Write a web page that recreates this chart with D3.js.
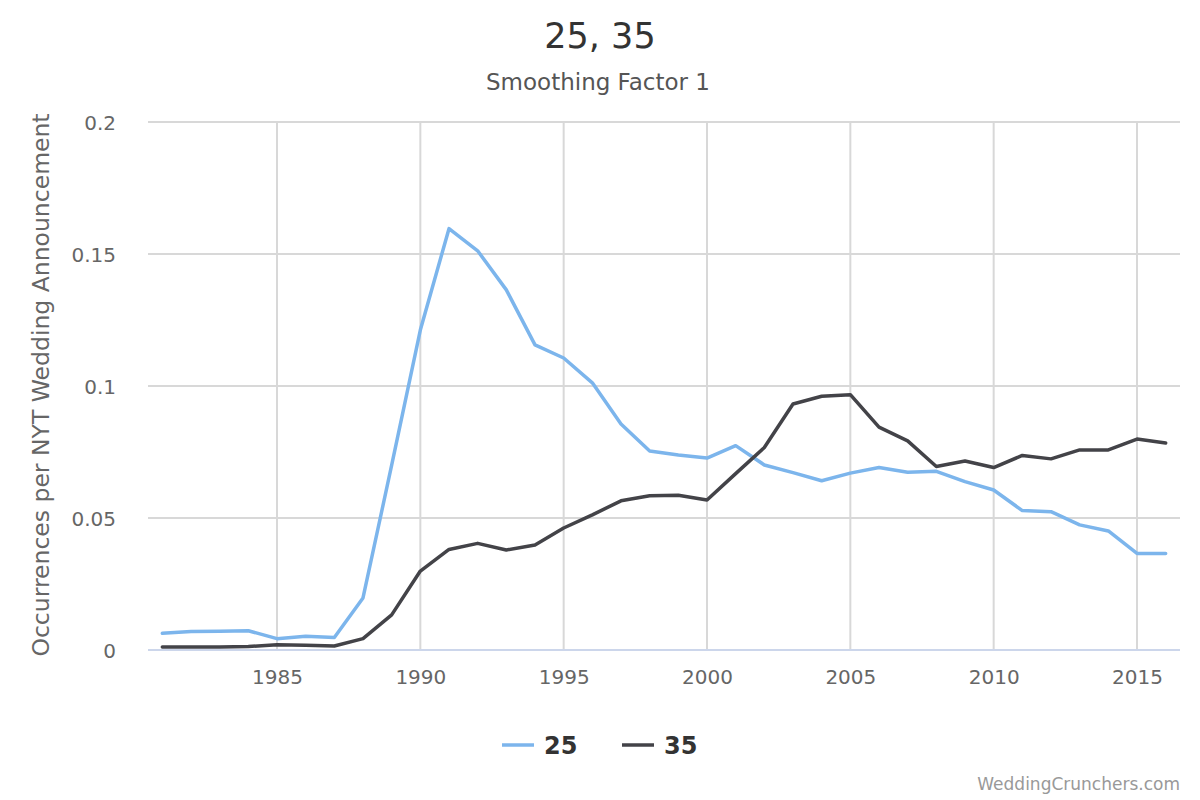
<!DOCTYPE html>
<html>
<head>
<meta charset="utf-8">
<script src="https://cdn.jsdelivr.net/npm/d3@7"></script>
<style>
  html, body { margin: 0; padding: 0; background: #ffffff; }
  svg { display: block; font-family: "DejaVu Sans", Verdana, sans-serif; }
</style>
</head>
<body>
<svg id="chart" width="1200" height="800"></svg>
<script>
const years = d3.range(1981, 2017);
const series25 = [0.0063, 0.0070, 0.0071, 0.0073, 0.0043, 0.0052, 0.0047, 0.0197, 0.0700, 0.1212,
  0.1596, 0.1512, 0.1364, 0.1156, 0.1106, 0.1012, 0.0856, 0.0754, 0.0739, 0.0727,
  0.0774, 0.0701, 0.0672, 0.0641, 0.0670, 0.0691, 0.0673, 0.0677, 0.0638, 0.0606,
  0.0528, 0.0524, 0.0474, 0.0451, 0.0366, 0.0366];
const series35 = [0.0011, 0.0011, 0.0011, 0.0013, 0.0020, 0.0018, 0.0015, 0.0043, 0.0133, 0.0299,
  0.0381, 0.0404, 0.0379, 0.0398, 0.0462, 0.0512, 0.0565, 0.0584, 0.0586, 0.0568,
  0.0668, 0.0767, 0.0932, 0.0961, 0.0967, 0.0844, 0.0792, 0.0695, 0.0716, 0.0691,
  0.0737, 0.0724, 0.0758, 0.0758, 0.0799, 0.0784];
const seriesNames = ["25", "35"];
const seriesColors = ["#7cb5ec", "#434348"];
const yTicks = [0, 0.05, 0.1, 0.15, 0.2];
const yTickLabels = ["0", "0.05", "0.1", "0.15", "0.2"];
const xTicks = [1985, 1990, 1995, 2000, 2005, 2010, 2015];

const svg = d3.select("#chart");
const plotLeft = 148, plotRight = 1180, plotTop = 122, plotBottom = 650;

const x = d3.scaleLinear().domain([1980.5, 2016.5]).range([plotLeft, plotRight]);
const y = d3.scaleLinear().domain([0, 0.2]).range([plotBottom, plotTop]);

// Title
svg.append("text").attr("x", 600).attr("y", 48).attr("text-anchor", "middle")
  .attr("font-size", 35).attr("fill", "#333333").text("25, 35");
svg.append("text").attr("x", 598).attr("y", 90).attr("text-anchor", "middle")
  .attr("font-size", 23).attr("fill", "#555555").text("Smoothing Factor 1");

// Horizontal grid
const grid = svg.append("g");
grid.selectAll("line.h").data(yTicks.filter(d => d > 0)).join("line").attr("class", "h")
  .attr("x1", plotLeft).attr("x2", plotRight)
  .attr("y1", d => y(d)).attr("y2", d => y(d))
  .attr("stroke", "#d8d8d8").attr("stroke-width", 2);
// Vertical grid
grid.selectAll("line.v").data(xTicks).join("line").attr("class", "v")
  .attr("x1", d => x(d)).attr("x2", d => x(d))
  .attr("y1", plotTop).attr("y2", plotBottom)
  .attr("stroke", "#d8d8d8").attr("stroke-width", 2);

// X axis line
svg.append("line").attr("x1", plotLeft).attr("x2", plotRight).attr("y1", plotBottom).attr("y2", plotBottom)
  .attr("stroke", "#ccd6eb").attr("stroke-width", 2);

// Y axis labels
const yAxis = d3.axisLeft(y).tickValues(yTicks).tickFormat((d, i) => yTickLabels[i]).tickSize(0).tickPadding(0);
const yg = svg.append("g").attr("transform", `translate(116,0)`).call(yAxis);
yg.select(".domain").remove();
yg.selectAll("text").attr("font-size", 20).attr("fill", "#666666")
  .attr("font-family", "DejaVu Sans, Verdana, sans-serif").attr("dy", "0.36em");

// X axis labels
const xAxis = d3.axisBottom(x).tickValues(xTicks).tickFormat(d3.format("d")).tickSize(0).tickPadding(0);
const xg = svg.append("g").attr("transform", `translate(0,668)`).call(xAxis);
xg.select(".domain").remove();
xg.selectAll("text").attr("font-size", 20).attr("fill", "#666666")
  .attr("font-family", "DejaVu Sans, Verdana, sans-serif").attr("dy", "0.8em");

// Y axis title
svg.append("text").attr("transform", "translate(49,385) rotate(-90)")
  .attr("text-anchor", "middle").attr("font-size", 23.5).attr("fill", "#666666")
  .text("Occurrences per NYT Wedding Announcement");

// Lines
const line = d3.line().x((d, i) => x(years[i])).y(d => y(d));
[series25, series35].forEach((s, k) => {
  svg.append("path").datum(s).attr("d", line).attr("fill", "none")
    .attr("stroke", seriesColors[k]).attr("stroke-width", 3.5)
    .attr("stroke-linejoin", "round").attr("stroke-linecap", "round");
});

// Legend
const legendX = [502, 622];
seriesNames.forEach((name, k) => {
  const g = svg.append("g").attr("transform", `translate(${legendX[k]},745)`);
  g.append("line").attr("x1", 0).attr("x2", 32).attr("y1", 0).attr("y2", 0)
    .attr("stroke", seriesColors[k]).attr("stroke-width", 3.5);
  g.append("text").attr("x", 42).attr("y", 9).attr("font-size", 24).attr("font-weight", "bold")
    .attr("fill", "#333333").text(name);
});

// Credits
svg.append("text").attr("x", 1180).attr("y", 790).attr("text-anchor", "end")
  .attr("font-size", 17).attr("fill", "#999999").text("WeddingCrunchers.com");
</script>
</body>
</html>
